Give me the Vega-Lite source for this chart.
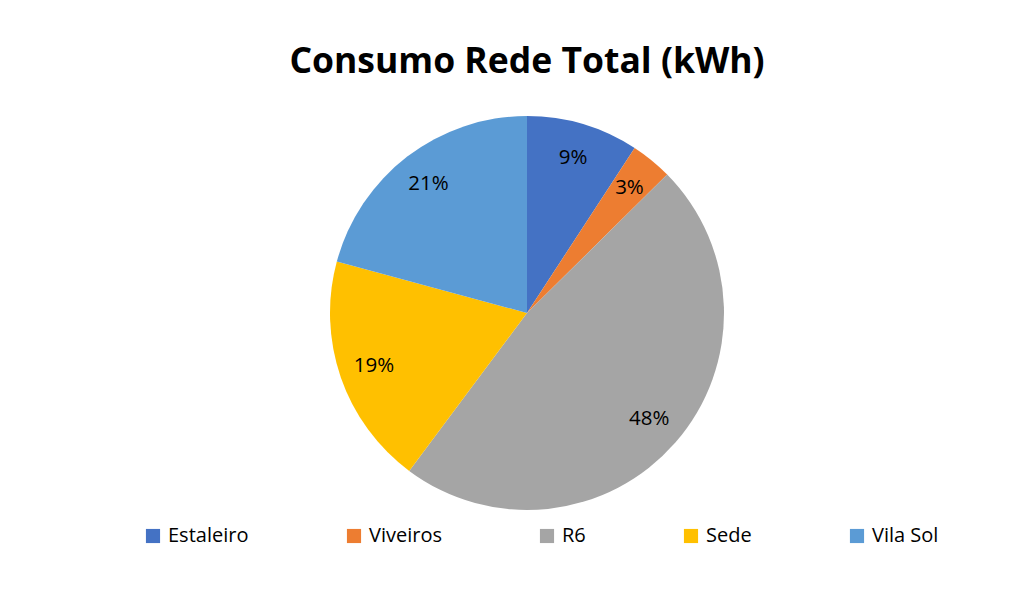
{
  "$schema": "https://vega.github.io/schema/vega-lite/v6.json",
  "autosize": "none",
  "width": 1012,
  "height": 554,
  "padding": {"left": 21, "top": 36, "right": 0, "bottom": 0},
  "background": "white",
  "title": {
    "text": "Consumo Rede Total (kWh)",
    "font": "Open Sans",
    "fontSize": 35.5,
    "fontWeight": "bold",
    "color": "#000000",
    "anchor": "middle",
    "frame": "group",
    "offset": -44
  },
  "data": {
    "values": [
      {"local": "Estaleiro", "consumo": 9.2},
      {"local": "Viveiros", "consumo": 3.4},
      {"local": "R6", "consumo": 47.6},
      {"local": "Sede", "consumo": 19.0},
      {"local": "Vila Sol", "consumo": 20.8}
    ]
  },
  "transform": [
    {"joinaggregate": [{"op": "sum", "field": "consumo", "as": "total"}]},
    {"calculate": "datum.consumo / datum.total", "as": "pct"},
    {"calculate": "indexof(['Estaleiro','Viveiros','R6','Sede','Vila Sol'], datum.local)", "as": "ordem"}
  ],
  "encoding": {
    "theta": {"field": "consumo", "type": "quantitative", "stack": true},
    "order": {"field": "ordem", "type": "quantitative", "sort": "ascending"}
  },
  "layer": [
    {
      "mark": {"type": "arc", "outerRadius": 197},
      "encoding": {
        "color": {
          "field": "local",
          "type": "nominal",
          "scale": {
            "domain": ["Estaleiro", "Viveiros", "R6", "Sede", "Vila Sol"],
            "range": ["#4472C4", "#ED7D31", "#A5A5A5", "#FFC000", "#5B9BD5"]
          },
          "legend": {
            "orient": "none",
            "legendX": 122,
            "legendY": 490,
            "direction": "horizontal",
            "columns": 5,
            "gridAlign": "none",
            "columnPadding": 95,
            "title": null,
            "symbolType": "square",
            "symbolSize": 200,
            "symbolStrokeWidth": 0,
            "symbolOpacity": 1,
            "labelFont": "Open Sans",
            "labelFontSize": 20,
            "labelColor": "#000000",
            "labelOffset": 5,
            "padding": 0,
            "labelLimit": 300
          }
        }
      }
    },
    {
      "mark": {"type": "text", "radius": 162, "font": "Open Sans", "fontSize": 20.5, "color": "#000000"},
      "encoding": {
        "detail": {"field": "local", "type": "nominal"},
        "text": {"field": "pct", "type": "quantitative", "format": ".0%"}
      }
    }
  ],
  "config": {"view": {"stroke": null}}
}
